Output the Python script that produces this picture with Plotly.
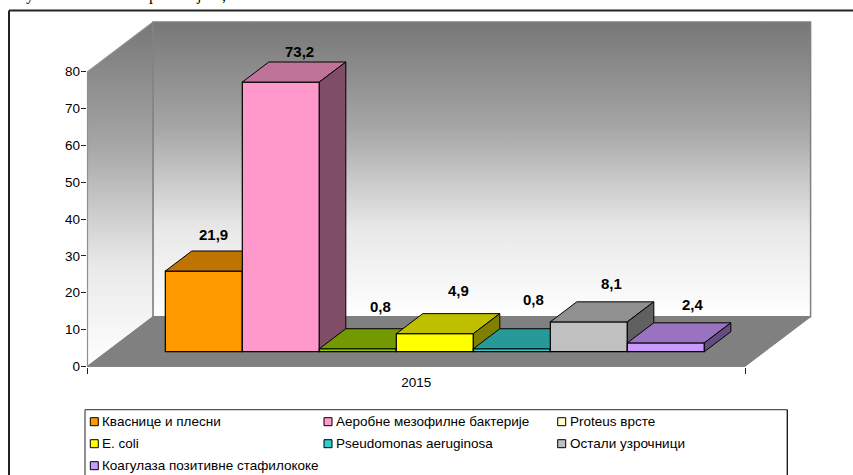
import plotly.graph_objects as go

# ---- data ----
CATEGORY = ["2015"]
SERIES_NAMES = ["Кваснице и плесни", "Аеробне мезофилне бактерије", "Proteus врсте",
                "E. coli", "Pseudomonas aeruginosa", "Остали узрочници",
                "Коагулаза позитивне стафилококе"]
SERIES_VALUES = [21.9, 73.2, 0.8, 4.9, 0.8, 8.1, 2.4]
VALUE_LABELS = ["21,9", "73,2", "0,8", "4,9", "0,8", "8,1", "2,4"]
Y_TICKS = [0, 10, 20, 30, 40, 50, 60, 70, 80]

# ---- styles ----
FRONT = ["#FF9900", "#FF99CC", "#99CC00", "#FFFF00", "#33CCCC", "#C0C0C0", "#CC99FF"]
TOP = ["#BF7300", "#BF7399", "#739900", "#BFBF00", "#269999", "#909090", "#9973BF"]
SIDE = ["#804D00", "#804D66", "#4D6600", "#808000", "#1A6666", "#606060", "#664D80"]
LEGEND_FILL = ["#FF9900", "#FF99CC", "#FFFFCC", "#FFFF00", "#33CCCC", "#C0C0C0", "#CC99FF"]
LABEL_SHIFT = [(-3.8, 16.7), (5, 10.7), (9.2, 22.1), (10.5, 23.6), (8.5, 28.8), (9.9, 18), (13.5, 18.7)]
FONT = "Liberation Sans"

# ---- page geometry (pixels) ----
W, H = 853, 475
PX_PER_CAT, PX_PER_VAL = 77.0, 3.684
ORIGIN_X, ORIGIN_Y = 184.4, 366.4       # pixel of scene (x=0, y=0)
AX_L, AX_R, AX_TOP = 87.5, 745.0, 71.7

# oblique projection of the 3-D box
DEPTH_X = 65.6 / PX_PER_CAT
DEPTH_Y = 49.6 / PX_PER_VAL
Z0, Z1 = 0.296, 0.70     # depth of bars front / back
FLOOR_L = (AX_L - ORIGIN_X) / PX_PER_CAT
FLOOR_R = (AX_R - ORIGIN_X) / PX_PER_CAT
WALL_TOP = (ORIGIN_Y - AX_TOP) / PX_PER_VAL


def proj(x, y, z):
    return x + z * DEPTH_X, y + z * DEPTH_Y


def poly(points):
    xy = [proj(*p) for p in points] + [proj(*points[0])]
    return [q[0] for q in xy], [q[1] for q in xy]


fig = go.Figure()


def face(points, color, line, width, zorder, gradient=None):
    xs, ys = poly(points)
    kw = dict(fillcolor=color) if gradient is None else dict(fillgradient=gradient)
    fig.add_trace(go.Scatter(x=xs, y=ys, mode="lines", fill="toself",
                             line=dict(color=line, width=width), hoverinfo="skip",
                             showlegend=False, zorder=zorder, **kw))


GRAD = [[0, "#777777"], [0.36, "#a6a6a6"], [0.5, "#c2c2c2"], [0.7, "#e8e8e8"], [1, "#ffffff"]]
top_y = proj(0, WALL_TOP, 1)[1]
base_y = proj(0, 0, 1)[1]
face([(FLOOR_L, 0, 0), (FLOOR_L, WALL_TOP, 0), (FLOOR_L, WALL_TOP, 1), (FLOOR_L, 0, 1)],
     None, "#909090", 1.2, -3,
     dict(type="vertical", colorscale=GRAD, start=top_y, stop=0))
face([(FLOOR_L, 0, 1), (FLOOR_L, WALL_TOP, 1), (FLOOR_R, WALL_TOP, 1), (FLOOR_R, 0, 1)],
     None, "#808080", 1.5, -2,
     dict(type="vertical", colorscale=GRAD, start=top_y, stop=base_y))
face([(FLOOR_L, 0, 0), (FLOOR_R, 0, 0), (FLOOR_R, 0, 1), (FLOOR_L, 0, 1)],
     "#808080", "#808080", 1, -1)

annotations = []
for i, v in enumerate(SERIES_VALUES):
    z = 2 * i + 1
    L, R = i - 0.5, i + 0.5
    face([(L, v, Z0), (R, v, Z0), (R, v, Z1), (L, v, Z1)], TOP[i], "#000", 1, z)
    face([(R, 0, Z0), (R, v, Z0), (R, v, Z1), (R, 0, Z1)], SIDE[i], "#000", 1, z)
    fx, fbase = proj(i, 0, Z0)
    fig.add_trace(go.Bar(x=[fx], y=[v], base=[fbase], width=[1.0], name=SERIES_NAMES[i],
                         marker=dict(color=FRONT[i], line=dict(color="#000", width=1.2)),
                         showlegend=False, zorder=z))
    ax = proj(i, v, (Z0 + Z1) / 2)[0]
    ay = proj(i, v, Z1)[1]
    annotations.append(dict(x=ax, y=ay, xref="x", yref="y", text="<b>" + VALUE_LABELS[i] + "</b>",
                            showarrow=False, xshift=LABEL_SHIFT[i][0], yshift=LABEL_SHIFT[i][1],
                            font=dict(family=FONT, size=15, color="#000")))

# visible axes: second subplot, only axis lines, ticks and labels
fig.add_trace(go.Scatter(x=CATEGORY, y=[0], xaxis="x2", yaxis="y2", mode="markers",
                         marker=dict(opacity=0), showlegend=False, hoverinfo="skip"))

# legend: third subplot in pixel units of the legend box
LG_L, LG_R, LG_TOP = 85.0, 787.3, 409.7
COL_STEP, ROW_STEP = 233.7, 22.0
SW_X, SW_Y, TXT_GAP = 9.3, 12.0, 7.0
for i, name in enumerate(SERIES_NAMES):
    col, row = i % 3, i // 3
    sx, sy = SW_X + col * COL_STEP, SW_Y + row * ROW_STEP
    fig.add_trace(go.Scatter(x=[sx], y=[sy], xaxis="x3", yaxis="y3", mode="markers", name=name,
                             marker=dict(symbol="square", size=8, color=LEGEND_FILL[i],
                                         line=dict(color="#000", width=1)),
                             showlegend=False, hoverinfo="name"))
    annotations.append(dict(x=sx, y=sy, xref="x3", yref="y3", text=name, showarrow=False,
                            xanchor="left", xshift=TXT_GAP, borderpad=0,
                            font=dict(family=FONT, size=13.5, color="#000")))

# descenders of the page text cropped by the top of the picture
for ch, px in [("у", 26), ("р", 149), ("ј", 196), (",", 222)]:
    annotations.append(dict(x=px / W, y=1 - 4 / H, xref="paper", yref="paper", text=ch, showarrow=False,
                            yanchor="bottom", borderpad=0, borderwidth=0,
                            font=dict(family="Liberation Serif", size=16, color="#000")))


def pline(x0, y0, x1, y1, color, width):
    return dict(type="line", xref="paper", yref="paper", layer="above",
                x0=x0 / W, x1=x1 / W, y0=1 - y0 / H, y1=1 - y1 / H,
                line=dict(color=color, width=width))


shapes = [
    pline(9, 10.5, W, 10.5, "#222", 2), pline(9, 10.5, 9, H, "#222", 2),
    pline(LG_L, LG_TOP, LG_R, LG_TOP, "#555", 1.3), pline(LG_L, LG_TOP, LG_L, H, "#555", 1.3),
    pline(LG_R, LG_TOP, LG_R, H, "#111", 1.3),
]

hidden = dict(visible=False, fixedrange=True, automargin=False)
fig.update_layout(
    template="none",
    width=W, height=H, margin=dict(l=0, r=0, t=0, b=0, pad=0), autosize=False,
    paper_bgcolor="white", plot_bgcolor="rgba(0,0,0,0)", showlegend=False, barmode="overlay",
    annotations=annotations, shapes=shapes,
    xaxis=dict(range=[-ORIGIN_X / PX_PER_CAT, (W - ORIGIN_X) / PX_PER_CAT], domain=[0, 1], **hidden),
    yaxis=dict(range=[(ORIGIN_Y - H) / PX_PER_VAL, ORIGIN_Y / PX_PER_VAL], domain=[0, 1], **hidden),
    xaxis2=dict(domain=[AX_L / W, AX_R / W], anchor="y2", type="category", tickson="boundaries",
                range=[-0.5, 0.5], automargin=False, ticklabelstandoff=3,
                ticks="outside", ticklen=6, tickcolor="#222", tickwidth=1, showline=True, linecolor="#000",
                linewidth=1.5, showgrid=False, tickfont=dict(family=FONT, size=13.5, color="#000"), fixedrange=True),
    yaxis2=dict(domain=[(H - ORIGIN_Y) / H, (H - AX_TOP) / H], anchor="x2", range=[0, 80], tickvals=Y_TICKS,
                automargin=False, ticklabelstandoff=-2,
                ticks="outside", ticklen=5, tickcolor="#222", tickwidth=1, showline=True, linecolor="#111",
                linewidth=1.5, showgrid=False, zeroline=False,
                tickfont=dict(family=FONT, size=13.5, color="#000"), fixedrange=True),
    xaxis3=dict(domain=[LG_L / W, LG_R / W], anchor="y3", range=[0, LG_R - LG_L], **hidden),
    yaxis3=dict(domain=[0, (H - LG_TOP) / H], anchor="x3", range=[H - LG_TOP, 0], **hidden),
)

fig.write_html("out.html", config=dict(displayModeBar=False),
               post_script="document.body.style.margin='0';document.body.style.overflow='hidden';")
